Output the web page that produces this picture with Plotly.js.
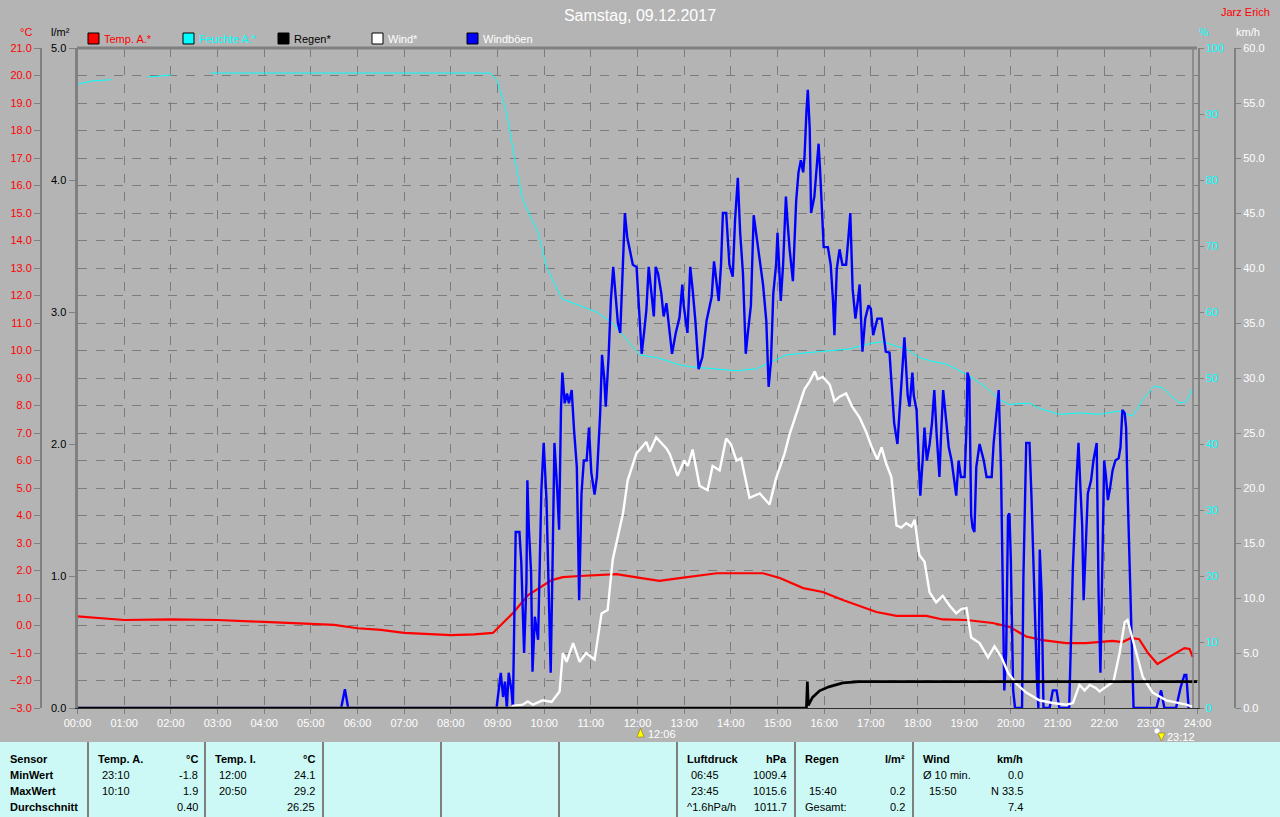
<!DOCTYPE html>
<html><head><meta charset="utf-8">
<script src="https://cdn.plot.ly/plotly-3.0.1.min.js"></script>
<style>html,body{margin:0;padding:0;background:#b4b4b4;overflow:hidden}#chart{width:1280px;height:817px}</style>
</head><body><div id="chart"></div>
<script>
// ---------- data (time in decimal hours) ----------
const hourTicks = [0,1,2,3,4,5,6,7,8,9,10,11,12,13,14,15,16,17,18,19,20,21,22,23,24];
const hourLabels = ["00:00","01:00","02:00","03:00","04:00","05:00","06:00","07:00","08:00","09:00","10:00","11:00","12:00","13:00","14:00","15:00","16:00","17:00","18:00","19:00","20:00","21:00","22:00","23:00","24:00"];

const tempHours = [0,1,2,3,4,5,5.5,6,6.5,7,7.5,8,8.5,8.9,9.33,9.65,10.16,10.4,10.76,11.55,12.05,12.47,12.9,13.3,13.7,14.69,15.05,15.55,15.97,16.4,16.76,17.12,17.55,18.19,18.54,19.05,19.61,19.97,20.33,20.68,21.19,21.61,22.18,22.39,22.58,22.75,22.94,23.14,23.47,23.72,23.83,23.9];
const tempValues = [0.33,0.2,0.22,0.2,0.13,0.07,0.02,-0.1,-0.16,-0.27,-0.3,-0.35,-0.32,-0.27,0.45,1.1,1.65,1.76,1.8,1.87,1.73,1.62,1.72,1.8,1.9,1.9,1.73,1.36,1.22,0.93,0.7,0.49,0.35,0.35,0.22,0.2,0.09,-0.05,-0.4,-0.53,-0.64,-0.64,-0.56,-0.6,-0.45,-0.5,-1.0,-1.4,-1.07,-0.82,-0.85,-1.15];

const humHours = [0,0.3,0.72,1.0,1.5,2.0,2.4,2.85,8.85,9.0,9.2,9.4,9.54,9.87,10.05,10.38,10.76,11.12,11.47,11.77,12.05,12.47,12.9,13.12,13.55,14.12,14.55,14.83,15.19,15.9,16.54,16.97,17.25,17.55,17.76,18.04,18.33,18.62,18.9,19.12,19.48,19.76,19.97,20.4,20.61,21.04,21.47,21.9,22.33,22.61,22.82,23.08,23.25,23.61,23.76,23.9];
const humValues = [94.5,95.0,95.2,null,95.6,95.9,null,96.2,96.2,95.0,90.0,82.0,77.0,72.0,66.8,62.0,61.0,60.0,58.3,55.8,53.5,53.0,52.0,51.7,51.4,51.1,51.4,52.3,53.5,54.0,54.4,55.2,55.5,54.8,54.4,53.1,52.5,52.1,51.1,50.3,48.5,46.7,46.0,46.2,45.4,44.5,44.7,44.5,45.0,44.2,46.7,48.8,48.5,46.2,46.4,48.5];

const rainHours = [0,15.62,15.64,15.66,15.75,15.9,16.1,16.4,16.75,24];
const rainValues = [0,0,0.2,0.02,0.08,0.13,0.16,0.19,0.2,0.2];

const windHours = [0,9.3,9.33,9.54,9.65,9.76,9.97,10.16,10.33,10.4,10.48,10.62,10.76,10.9,11.08,11.23,11.36,11.47,11.69,11.79,11.98,12.05,12.19,12.26,12.4,12.62,12.69,12.86,13.0,13.08,13.18,13.33,13.5,13.61,13.76,13.9,14.0,14.12,14.22,14.4,14.62,14.83,14.97,15.15,15.26,15.41,15.58,15.69,15.8,15.86,15.97,16.12,16.22,16.33,16.47,16.6,16.76,16.9,17.02,17.14,17.23,17.33,17.44,17.55,17.65,17.76,17.87,17.94,18.04,18.15,18.26,18.4,18.54,18.69,18.83,18.94,19.05,19.15,19.33,19.51,19.65,19.8,19.94,20.12,20.33,20.61,20.9,21.19,21.33,21.47,21.58,21.69,21.83,21.9,22.04,22.2,22.33,22.44,22.5,22.58,22.69,22.83,23.04,23.33,23.76,23.9];
const windValues = [0,0,0.2,0.3,0.6,0.3,0.7,0.55,1.5,5,4.2,5.9,4.2,5,4.4,8.6,8.9,13.5,17.7,20.7,23.2,23.5,24.2,23.3,24.6,23.6,23.1,21.1,22.5,22,23.5,20.2,19.8,22,21.6,24.5,24,22.5,22.7,19.1,19.5,18.5,20.9,23.1,24.9,26.8,29,29.7,30.6,29.9,30.1,29.4,27.9,28.3,28.6,27.4,26.4,25.1,23.7,22.6,23.7,22.2,21,16.6,16.4,16.8,16.5,17.1,13.9,13.3,10.5,9.6,10.2,9.3,8.6,9,9.1,6.4,5.9,4.6,5.6,4.6,3.2,2.2,1.4,0.7,0.45,0.3,0.45,2.1,1.6,2.1,1.8,1.5,1.9,2.4,5,7.8,8,6.8,5,2.8,1.4,0.7,0.3,0.1];

const gustHours = [0,5.65,5.73,5.8,8.98,9.07,9.12,9.16,9.2,9.24,9.3,9.33,9.37,9.39,9.47,9.51,9.57,9.62,9.64,9.67,9.72,9.75,9.8,9.87,9.94,9.99,10.05,10.08,10.14,10.18,10.22,10.28,10.32,10.36,10.39,10.44,10.49,10.53,10.59,10.64,10.7,10.75,10.8,10.85,10.91,10.96,11.01,11.08,11.13,11.2,11.24,11.29,11.32,11.38,11.43,11.48,11.53,11.58,11.63,11.68,11.73,11.78,11.84,11.9,11.98,12.03,12.09,12.14,12.19,12.24,12.3,12.35,12.39,12.44,12.51,12.56,12.62,12.67,12.74,12.82,12.9,12.96,12.99,13.07,13.13,13.18,13.24,13.31,13.39,13.48,13.59,13.64,13.69,13.74,13.79,13.83,13.9,13.97,14.04,14.09,14.15,14.2,14.26,14.32,14.36,14.43,14.49,14.54,14.62,14.69,14.76,14.81,14.86,14.91,14.97,15.0,15.03,15.07,15.12,15.18,15.22,15.26,15.33,15.4,15.45,15.5,15.55,15.58,15.62,15.65,15.69,15.72,15.79,15.83,15.88,15.91,15.96,15.99,16.08,16.14,16.19,16.22,16.27,16.33,16.39,16.47,16.52,16.56,16.61,16.67,16.72,16.76,16.82,16.88,16.95,17.0,17.05,17.14,17.23,17.32,17.4,17.46,17.5,17.57,17.65,17.72,17.79,17.83,17.89,17.92,17.98,18.02,18.06,18.11,18.15,18.2,18.26,18.31,18.36,18.41,18.47,18.51,18.55,18.62,18.67,18.73,18.78,18.83,18.88,18.93,19.01,19.05,19.07,19.11,19.15,19.18,19.22,19.26,19.33,19.42,19.48,19.59,19.63,19.69,19.74,19.79,19.82,19.86,19.9,19.94,19.97,20.0,20.05,20.09,20.24,20.27,20.33,20.4,20.44,20.5,20.56,20.59,20.62,20.66,20.7,20.83,20.9,20.98,21.04,21.25,21.33,21.41,21.45,21.49,21.53,21.56,21.6,21.65,21.72,21.77,21.84,21.88,21.92,21.96,22.0,22.04,22.08,22.13,22.18,22.24,22.31,22.35,22.39,22.44,22.47,22.5,22.56,22.63,23.12,23.22,23.29,23.54,23.64,23.72,23.76,23.81];
const gustValues = [0,0,1.7,0,0,3.2,1.0,2.4,0,3.2,1.6,0,10.7,16,16,13.2,5,11.4,20.7,16.5,12.3,3.3,8.3,6.2,19.8,24.1,18.9,12.8,3.2,13.2,24.1,19.8,16.2,27.1,30.5,27.7,28.6,27.7,28.9,25.3,21.9,9.8,19.5,22.5,22.5,25.5,21.4,19.4,21,26.8,32.1,29.8,27.4,31.9,37.1,40.1,37.4,35,34.1,39.5,45,42.8,41.4,40.3,40.1,36.5,32.2,34.1,36.2,40.1,37.7,35.6,40.1,39.5,37.7,35.6,36.8,34.6,32.2,34.1,35.5,38.5,36.6,34.1,40.1,38.1,35.2,30.8,31.9,35.2,37.4,40.6,38.8,37,40.3,45,45,40.3,39.2,44.3,48.2,43.2,39.5,32.2,33.9,36.6,44.8,43.2,41,38.5,35.2,29.2,31.5,37.7,40.3,43.2,40.6,37,40.3,46.5,43.9,41.7,38.8,46.1,48.7,49.8,48.7,50.2,54.2,56.2,52.7,45,46.5,48.4,51.3,49.1,44.3,41.9,41.9,40.3,37,33.9,39.9,41.7,40.3,40.3,42.8,45,38.1,35.4,37,38.5,32.4,35.4,36.6,36.3,33.9,35.4,35.4,32.4,32.3,28.9,25.9,24,28.9,33.7,28.4,27.4,30.5,28.4,27.1,23.5,19.3,22.5,25.5,22.5,24,25.9,28.9,24.9,21,25.3,28.9,25.9,23.7,22.5,21,19.3,22.5,21,21,25.5,30.5,29.9,17.5,16.4,16,21.9,24,22.5,21,21,24,26.8,28.9,21.6,13.5,1.6,5,17.5,17.7,13.5,1.6,0,0,11.9,24.1,24.1,19.5,10.7,2.5,0,14.4,10.4,0,0,1.6,1.6,0,0,12.8,21,24.1,20.1,16.5,9.8,13.5,19.5,20.7,22.5,24.1,10.4,3.2,14.6,22.5,21,18.9,20.1,21.6,22.5,22.7,23.7,27.1,26.8,25.5,20.1,10.4,0,0,1.6,0,0,1.9,3,3,0];

const legendNames = ["Temp. A.*","Feuchte A.*","Regen*","Wind*","Windböen"];
const seriesColors = ["#ff0000","#00ffff","#000000","#ffffff","#0000ff"];

const tableHeaders = [["Sensor","",""],["Temp. A.","°C"],["Temp. I.","°C"],["Luftdruck","hPa"],["Regen","l/m²"],["Wind","km/h"]];
const rowLabels = ["MinWert","MaxWert","Durchschnitt"];
const tempATimes = ["23:10","10:10",""], tempAValues = ["-1.8","1.9","0.40"];
const tempITimes = ["12:00","20:50",""], tempIValues = ["24.1","29.2","26.25"];
const pressTimes = ["06:45","23:45","^1.6hPa/h"], pressValues = ["1009.4","1015.6","1011.7"];
const rainTimes = ["","15:40","Gesamt:"], rainTabValues = ["","0.2","0.2"];
const windTimes = ["Ø 10 min.","15:50",""], windTabValues = ["0.0","N 33.5","7.4"];

// ---------- helpers ----------
const W = 1280, H = 817;
const PX = x => x / W, PY = y => 1 - y / H;
const FONT = "Arial, 'Liberation Sans', sans-serif";
const GRID = "#7c7c7c";

// axis order = drawing order: y (temp) < y2 (humidity) < y3 (km/h) < y4 (rain)
const traces = [
  {name: legendNames[0], x: tempHours, y: tempValues, yaxis: "y", mode: "lines", line: {color: seriesColors[0], width: 2.2}},
  {name: legendNames[1], x: humHours, y: humValues, yaxis: "y2", mode: "lines", line: {color: seriesColors[1], width: 1}, connectgaps: false},
  {name: legendNames[4], x: gustHours, y: gustValues, yaxis: "y3", mode: "lines", line: {color: seriesColors[4], width: 2.4}},
  {name: legendNames[3], x: windHours, y: windValues, yaxis: "y3", mode: "lines", line: {color: seriesColors[3], width: 2.4}},
  {name: legendNames[2], x: rainHours, y: rainValues, yaxis: "y4", mode: "lines", line: {color: seriesColors[2], width: 2.7}}
];

const shapes = [];
const annotations = [];
function txt(t, x, y, color, size, anchor, bold) {
  annotations.push({text: bold ? "<b>" + t + "</b>" : t, x: PX(x), y: PY(y), xref: "paper", yref: "paper",
    xanchor: anchor || "left", yanchor: "middle", showarrow: false,
    font: {family: FONT, size: size || 11, color: color || "#000"}});
}
function line(x0, y0, x1, y1, color, width, dash) {
  shapes.push({type: "line", xref: "paper", yref: "paper", x0: PX(x0), y0: PY(y0), x1: PX(x1), y1: PY(y1),
    line: {color: color, width: width, dash: dash || "solid"}});
}
function rect(x0, y0, x1, y1, fill, lc, lw) {
  shapes.push({type: "rect", xref: "paper", yref: "paper", x0: PX(x0), y0: PY(y0), x1: PX(x1), y1: PY(y1),
    fillcolor: fill, line: {color: lc || fill, width: lw || 0}, layer: "above"});
}

// frame
line(77, 48, 1197, 48, "#808080", 3);
line(1193, 48, 1193, 708, "#808080", 1.5);

// legend
const legendX = [88, 183, 278, 372, 467];
const legendTextColors = ["#ff0000","#00ffff","#000000","#ffffff","#ffffff"];
legendNames.forEach((n, i) => {
  rect(legendX[i], 33, legendX[i] + 11, 44, seriesColors[i], "#000", 1);
  txt(n, legendX[i] + 14, 38.5, legendTextColors[i], 11);
});

// unit labels
txt("°C", 26, 32, "#ff0000", 11, "center");
txt("l/m²", 49, 32, "#000000", 11);
txt("%", 1204, 32, "#00ffff", 11, "center");
txt("km/h", 1234, 32, "#ffffff", 11);
txt("Jarz Erich", 1245, 12, "#ff0000", 11, "center");

// sun markers under x axis
shapes.push({type: "path", xref: "paper", yref: "paper",
  path: `M ${PX(637)} ${PY(737)} L ${PX(644)} ${PY(737)} L ${PX(640.5)} ${PY(728)} Z`,
  fillcolor: "#ffff00", line: {color: "#806000", width: 0.5}});
txt("12:06", 646, 734, "#ffffff", 11);
shapes.push({type: "circle", xref: "paper", yref: "paper", x0: PX(1154), x1: PX(1160), y0: PY(734), y1: PY(728),
  fillcolor: "#ffffff", line: {color: "#9090c0", width: 0.5}});
shapes.push({type: "path", xref: "paper", yref: "paper",
  path: `M ${PX(1158)} ${PY(733)} L ${PX(1165)} ${PY(733)} L ${PX(1161.5)} ${PY(741)} Z`,
  fillcolor: "#ffff00", line: {color: "#806000", width: 0.5}});
txt("23:12", 1165, 737, "#ffffff", 11);

// stats table
rect(0, 742, 1280, 817, "#ccf9f5");
const sepX = [88, 205, 323, 441, 559, 677, 795, 913];
sepX.forEach(x => line(x, 742, x, 817, "#808080", 2));
const rowY = [759, 775, 791, 807];
txt("Sensor", 8, rowY[0], "#000", 11, "left", true);
rowLabels.forEach((r, i) => txt(r, 8, rowY[i + 1], "#000", 11, "left", true));
const blocks = [
  {x0: 88, head: tableHeaders[1], times: tempATimes, vals: tempAValues, ind: [4, 4, 4]},
  {x0: 205, head: tableHeaders[2], times: tempITimes, vals: tempIValues, ind: [4, 4, 4]},
  {x0: 677, head: tableHeaders[3], times: pressTimes, vals: pressValues, ind: [4, 4, 0]},
  {x0: 795, head: tableHeaders[4], times: rainTimes, vals: rainTabValues, ind: [4, 4, 0]},
  {x0: 913, head: tableHeaders[5], times: windTimes, vals: windTabValues, ind: [0, 6, 0]}
];
blocks.forEach(b => {
  txt(b.head[0], b.x0 + 8, rowY[0], "#000", 11, "left", true);
  txt(b.head[1], b.x0 + 112, rowY[0], "#000", 11, "right", true);
  for (let i = 0; i < 3; i++) {
    if (b.times[i]) txt(b.times[i], b.x0 + 8 + b.ind[i], rowY[i + 1], "#000", 11, "left");
    if (b.vals[i]) txt(b.vals[i], b.x0 + 112, rowY[i + 1], "#000", 11, "right");
  }
});

const layout = {
  width: W, height: H,
  margin: {l: 0, r: 0, t: 0, b: 0},
  paper_bgcolor: "#b4b4b4", plot_bgcolor: "#b4b4b4",
  showlegend: false,
  font: {family: FONT, size: 11},
  title: {text: "Samstag, 09.12.2017", x: 0.5, xanchor: "center", y: PY(15), yanchor: "middle", yref: "paper",
    font: {family: FONT, size: 16, color: "#ffffff"}},
  xaxis: {domain: [PX(77.5), PX(1197.5)], range: [0, 24], tickvals: hourTicks, ticktext: hourLabels,
    tickfont: {color: "#ffffff", size: 11}, ticks: "outside", ticklen: 5, tickcolor: "#808080",
    showline: true, linecolor: "#303030", linewidth: 1, showgrid: true, gridcolor: GRID, griddash: "dash", gridwidth: 1,
    zeroline: false, anchor: "y", fixedrange: true},
  yaxis: {domain: [PY(708), PY(48)], range: [-3, 21], tick0: -3, dtick: 1, tickformat: ".1f",
    tickfont: {color: "#ff0000", size: 11}, anchor: "free", position: PX(41), side: "left",
    showline: true, linecolor: "#808080", linewidth: 2, ticks: "outside", ticklen: 6, tickcolor: "#808080",
    showgrid: true, gridcolor: GRID, griddash: "dash", gridwidth: 1, zeroline: false, fixedrange: true},
  yaxis2: {overlaying: "y", anchor: "x", side: "right", range: [0, 100], dtick: 10,
    tickfont: {color: "#00ffff", size: 11}, showline: true, linecolor: "#808080", linewidth: 2,
    ticks: "outside", ticklen: 4, tickcolor: "#808080", showgrid: false, zeroline: false, fixedrange: true},
  yaxis3: {overlaying: "y", anchor: "free", position: PX(1235), side: "right", range: [0, 60], dtick: 5, tickformat: ".1f",
    tickfont: {color: "#ffffff", size: 11}, showline: true, linecolor: "#808080", linewidth: 2,
    ticks: "outside", ticklen: 5, tickcolor: "#808080", showgrid: false, zeroline: false, fixedrange: true},
  yaxis4: {overlaying: "y", anchor: "x", side: "left", range: [0, 5], dtick: 1, tickformat: ".1f",
    tickfont: {color: "#000000", size: 11}, showline: true, linecolor: "#808080", linewidth: 3,
    ticks: "outside", ticklen: 6, tickcolor: "#808080", showgrid: false, zeroline: false, fixedrange: true},
  shapes: shapes,
  annotations: annotations
};

Plotly.newPlot("chart", traces, layout, {displayModeBar: false, staticPlot: true});
</script>
</body></html>
